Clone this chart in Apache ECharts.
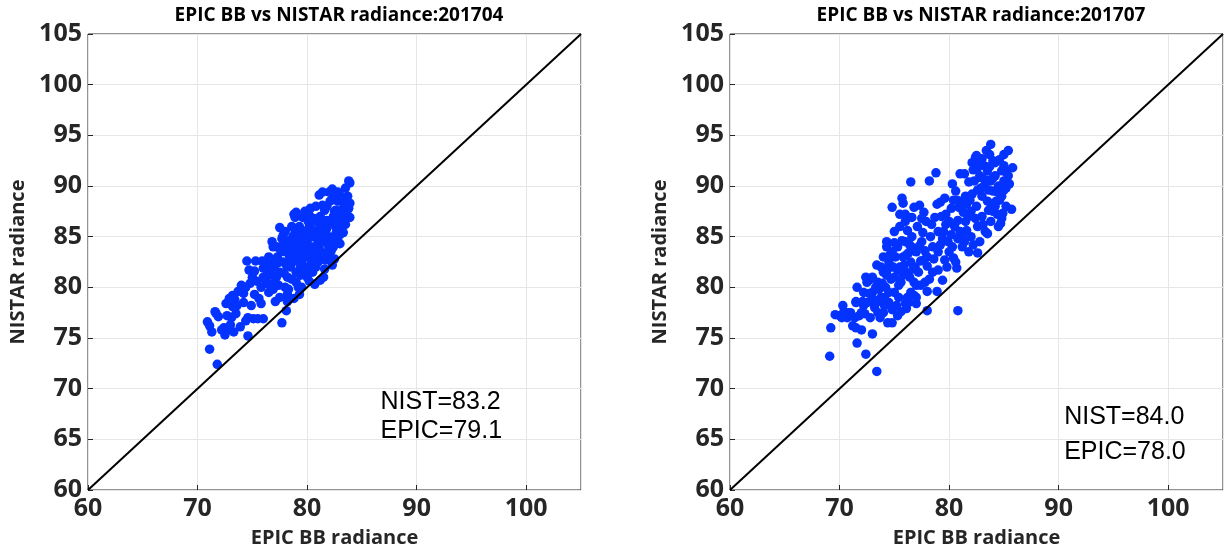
<!DOCTYPE html>
<html><head><meta charset="utf-8">
<script src="https://cdn.jsdelivr.net/npm/echarts@6/dist/echarts.min.js"></script>
<style>html,body{margin:0;padding:0;background:#fff}#c{width:1225px;height:550px}</style>
</head><body><div id="c"></div>
<script>
const titles = ['EPIC BB vs NISTAR radiance:201704', 'EPIC BB vs NISTAR radiance:201707'];
const xName = 'EPIC BB radiance';
const yName = 'NISTAR radiance';
const xTicks = [60, 70, 80, 90, 100];
const yTicks = [60, 65, 70, 75, 80, 85, 90, 95, 100, 105];
const diagonal = [[60, 60], [105, 105]];
const annotLeft = ['NIST=83.2', 'EPIC=79.1'];
const annotRight = ['NIST=84.0', 'EPIC=78.0'];
const annotLeftPos = [[86.7, 68.7], [86.7, 65.8]];
const annotRightPos = [[90.5, 67.2], [90.5, 63.7]];

const leftPoints = [
[70.9,76.6],[71.1,73.9],[71.8,72.4],[71.3,75.6],[71.1,76.2],[71.7,77.4],[71.9,77.1],[72.5,75.3],[72.8,75.8],[73.0,76.3],
[72.6,78.4],[72.9,78.9],[73.2,78.1],[73.5,77.4],[73.7,79.6],[74.0,80.2],[73.9,76.1],[74.6,75.2],[74.6,77.0],[74.4,76.7],
[75.1,76.9],[75.5,76.9],[76.0,76.9],[74.5,82.6],[75.3,82.6],[75.0,81.0],[74.7,81.7],[74.4,80.0],[75.2,79.3],[75.6,78.9],
[75.8,78.4],[76.0,81.9],[76.2,80.7],[76.5,80.3],[76.8,81.2],[76.7,82.7],[76.8,84.5],[76.9,84.0],[77.1,78.6],[77.7,76.5],
[77.5,85.9],[77.7,84.8],[77.8,85.1],[78.1,77.7],[78.2,78.6],[78.2,79.3],[78.8,87.2],[78.9,86.9],[78.8,78.9],[79.3,79.3],
[79.6,86.9],[80.2,87.1],[80.3,87.8],[80.7,80.3],[81.2,80.7],[81.1,89.1],[82.3,89.7],[83.0,89.1],[83.7,89.0],[83.8,90.5],
[83.9,90.3],[83.9,88.3],[83.9,86.9],[83.5,86.2],[83.0,84.3],[82.8,84.6],[82.3,82.2],[81.7,82.7],[82.6,87.6],[83.1,87.6],
[82.1,88.5],[81.4,88.1],[77.0,82.0],[77.3,83.0],[77.5,81.5],[77.8,82.5],[78.0,83.5],[78.2,81.0],[78.5,82.0],[78.5,84.0],
[78.7,85.0],[79.0,83.0],[79.0,81.5],[79.2,84.5],[79.3,86.0],[79.5,82.5],[79.6,85.5],[79.8,83.5],[80.0,84.5],[80.0,82.0],
[80.2,86.0],[80.4,83.0],[80.5,85.0],[80.7,84.0],[80.8,86.5],[81.0,82.5],[81.0,85.5],[81.2,87.0],[81.3,83.5],[81.5,84.5],
[81.6,86.0],[81.8,88.0],[82.0,83.0],[82.0,85.0],[82.2,86.5],[82.4,84.0],[82.5,87.5],[82.7,85.5],[82.8,88.5],[83.0,86.0],
[83.2,87.0],[83.4,88.0],[78.0,80.0],[78.3,79.8],[79.0,80.5],[79.5,80.0],[80.0,81.0],[80.5,81.5],[81.5,81.0],[76.5,83.0],
[77.0,80.5],[76.0,81.0],[76.5,79.5],[77.5,79.0],[77.2,84.0],[78.0,85.5],[79.8,87.5],[80.8,88.0],[77.4,80.2],[78.6,80.8],
[79.4,81.2],[79.9,83.0],[80.3,84.0],[80.9,83.2],[81.4,85.2],[81.9,84.2],[82.2,83.6],[82.9,86.6],[83.3,85.4],[79.1,85.8],
[80.6,86.8],[81.6,87.6],[82.4,89.0],[82.0,89.4],[80.1,86.5],[79.7,84.2],[78.9,82.6],[78.1,82.2],[77.6,83.6],[76.3,82.4],
[75.8,80.0],[75.4,80.6],[74.9,78.2],[74.2,78.5],[73.4,78.8],[72.4,76.0],[73.1,77.0],[71.6,77.6],[76.9,79.8],[78.4,83.2],
[79.9,85.0],[80.9,84.8],[81.8,85.8],[82.6,86.0],[83.6,87.4],[83.2,88.7],[80.4,82.4],[81.1,83.8],[79.3,83.8],[78.8,84.6],
[77.3,82.4],[77.9,81.4],[78.4,82.8],[78.9,83.8],[79.4,82.0],[79.8,81.6],[80.2,83.4],[80.6,83.8],[81.0,84.2],[81.4,82.8],
[81.8,83.4],[82.2,84.8],[82.6,85.2],[83.0,85.2],[83.4,86.4],[82.4,87.0],[81.8,86.6],[81.2,86.2],[80.6,85.6],[80.0,85.6],
[79.5,84.9],[78.9,85.4],[78.3,84.6],[77.8,84.2],[77.2,81.0],[76.4,81.6],[75.9,82.6],[75.2,81.6],[74.8,80.4],[74.2,79.4],
[73.6,78.2],[73.2,79.2],[72.7,77.2],[72.2,75.8],[73.3,75.6],[80.8,82.0],[81.6,83.2],[79.2,80.0],[80.2,80.6],[81.4,89.4],
[82.8,89.4],[83.5,89.8],[83.8,87.8],[82.9,87.4],[81.6,81.8],[82.5,82.8],[79.6,83.2],[80.4,86.8],[79.0,87.4],[78.6,86.0]
];

const rightPoints = [
[69.1,73.2],[69.2,76.0],[69.6,77.3],[70.0,77.2],[70.3,78.2],[70.2,77.0],[70.7,77.0],[71.2,76.2],[71.5,76.0],[72.0,75.8],
[71.6,74.5],[72.4,73.4],[73.4,71.7],[73.0,75.4],[71.6,80.0],[71.5,78.6],[72.2,78.2],[72.4,81.0],[72.7,80.7],[73.4,82.2],
[74.3,84.5],[74.8,87.9],[74.4,76.5],[74.8,76.5],[75.3,77.2],[75.7,88.8],[75.5,87.2],[76.0,87.2],[75.8,88.3],[76.5,90.4],
[76.8,87.9],[76.6,86.9],[77.3,88.1],[77.7,87.4],[78.2,90.5],[78.8,91.3],[77.9,86.5],[78.4,86.2],[78.7,86.9],[78.0,77.7],
[77.0,78.4],[76.1,77.9],[78.0,79.6],[78.9,79.6],[79.4,80.7],[79.0,81.7],[79.6,82.7],[80.4,82.9],[80.7,81.9],[80.8,77.7],
[79.2,88.4],[79.6,88.8],[79.7,87.2],[80.3,90.2],[80.6,89.5],[80.9,87.9],[81.0,91.2],[81.4,91.2],[81.8,90.4],[82.1,92.3],
[82.4,92.8],[82.8,92.3],[83.0,92.7],[83.7,93.1],[83.8,94.1],[84.2,92.3],[85.0,93.1],[85.4,93.5],[85.8,91.8],[85.4,91.0],
[85.2,89.8],[85.7,87.7],[84.9,87.3],[84.7,86.3],[83.5,85.3],[82.6,83.4],[81.8,83.5],[81.4,84.5],[80.8,84.8],[79.9,84.5],
[79.4,84.8],[79.0,85.5],[77.3,84.1],[76.3,83.4],[77.7,82.7],[78.0,82.1],[75.3,81.7],
[72.5,78.5],[73.0,79.5],[73.2,78.0],[73.5,80.5],[73.8,79.0],[74.0,81.5],[74.2,80.0],[74.5,82.5],[74.5,78.5],[74.8,83.5],
[75.0,81.0],[75.0,79.5],[75.3,84.0],[75.5,82.0],[75.6,80.5],[75.8,83.0],[76.0,84.5],[76.0,81.5],[76.2,79.0],[76.5,82.5],
[76.6,85.0],[76.8,80.5],[77.0,83.5],[77.2,81.5],[77.5,84.5],[77.8,80.5],[78.0,83.0],[72.0,77.5],[72.8,77.0],[73.5,77.5],
[74.0,77.5],[73.0,81.0],[74.0,83.0],[74.3,84.0],[75.0,85.5],[75.5,86.0],[76.0,86.5],[76.5,79.5],[77.0,79.0],[74.5,79.5],
[73.8,82.0],[75.2,78.2],[76.3,78.5],[71.0,77.5],[71.5,78.5],[71.8,77.2],[72.2,79.5],[72.5,80.5],[70.8,77.5],[78.5,81.5],
[78.5,84.0],[79.0,83.5],[79.5,85.5],[80.0,86.5],[80.0,83.5],[80.5,86.0],[81.0,85.5],[81.0,88.5],[81.5,86.5],[81.5,89.0],
[82.0,87.5],[82.0,85.0],[82.3,90.5],[82.5,88.0],[82.6,86.0],[82.8,91.0],[83.0,89.0],[83.0,87.0],[83.2,90.0],[83.3,85.5],
[83.5,91.5],[83.5,88.5],[83.8,86.5],[83.8,90.5],[84.0,89.5],[84.0,87.5],[84.2,91.0],[84.3,88.5],[84.5,90.0],[84.5,86.0],
[84.8,91.5],[84.8,89.0],[85.0,90.5],[85.2,88.0],[85.0,92.0],[83.2,92.0],[82.5,93.0],[84.0,92.5],[81.8,87.0],[82.8,84.5],
[81.2,84.0],[80.3,84.0],[79.8,82.0],[80.6,82.5],[73.6,79.8],[74.1,78.2],[74.7,80.8],[75.4,79.0],[75.9,82.2],[76.4,81.0],
[76.9,82.0],[77.4,80.2],[73.3,80.0],[72.9,78.6],[74.9,82.0],[75.7,84.6],[76.2,85.6],[77.1,86.0],[77.6,85.4],[78.3,85.0],
[79.7,86.2],[80.2,87.8],[80.7,88.6],[81.3,87.4],[82.1,89.2],[82.9,89.8],[83.6,89.6],[84.4,89.4],[83.9,88.2],[83.1,86.2],
[82.2,84.2],[81.6,85.6],[84.6,92.6],[85.5,90.2],[83.4,93.5],[72.3,77.4],[73.7,77.0],[74.3,81.2],[75.1,83.0],[76.7,83.9],
[73.1,78.8],[73.9,80.4],[74.4,81.8],[74.6,83.2],[75.0,84.4],[75.4,80.2],[75.8,81.2],[76.1,83.2],[76.4,84.2],[76.7,81.8],
[77.0,80.2],[77.4,82.6],[77.8,83.6],[78.2,80.8],[74.1,79.0],[73.5,78.6],[72.7,79.4],[72.1,78.6],[71.4,77.0],[70.4,77.6],
[74.8,77.8],[75.6,77.6],[76.0,78.4],[76.8,79.2],[78.6,82.8],[79.2,84.2],[80.2,85.2],[80.8,86.6],[81.2,85.0],[80.4,88.6],
[81.6,88.2],[82.4,86.8],[82.6,89.6],[82.2,91.6],[83.0,90.8],[83.4,90.6],[83.6,87.6],[84.2,88.0],[84.6,88.6],[84.0,90.8],
[84.4,87.2],[83.7,91.9],[82.6,91.8],[81.9,88.6],[85.0,89.6],[84.8,86.8],[85.2,91.4],[79.3,87.0],[78.9,88.2],[77.5,86.8]
];

function makeGrid(left, top) {
  return { left: left, top: top, width: 493, height: 456, show: true, borderColor: '#262626', borderWidth: 1,
    backgroundColor: '#fff', containLabel: false, outerBoundsMode: 'none' };
}
const labelFont = { fontFamily: 'Open Sans', fontWeight: 'bold', fontSize: 25, color: '#262626' };
const nameFont = { fontFamily: 'Open Sans', fontWeight: 'bold', fontSize: 20, color: '#262626' };
function xAxis(gi) {
  return {
    type: 'value', gridIndex: gi, min: 60, max: 105, interval: 10,
    name: xName, nameLocation: 'middle', nameGap: 38, nameTextStyle: nameFont,
    axisLine: { show: false },
    axisTick: { show: true, inside: true, length: 5, lineStyle: { color: '#262626' } },
    axisLabel: Object.assign({ margin: 6, showMaxLabel: false, formatter: v => xTicks.includes(v) ? String(v) : '' }, labelFont),
    splitLine: { show: true, lineStyle: { color: '#e6e6e6', width: 1 } }
  };
}
function yAxis(gi) {
  return {
    type: 'value', gridIndex: gi, min: 60, max: 105, interval: 5,
    name: yName, nameLocation: 'middle', nameGap: 60, nameTextStyle: nameFont,
    axisLine: { show: false },
    axisTick: { show: true, inside: true, length: 5, lineStyle: { color: '#262626' } },
    axisLabel: Object.assign({ margin: 6, formatter: v => yTicks.includes(v) ? String(v) : '' }, labelFont),
    splitLine: { show: true, lineStyle: { color: '#e6e6e6', width: 1 } }
  };
}
function annotSeries(gi, texts, pos) {
  return {
    type: 'scatter', xAxisIndex: gi, yAxisIndex: gi, symbolSize: 0, silent: true, z: 5,
    data: pos.map((p, i) => ({ value: p, name: texts[i] })),
    label: { show: true, position: 'right', distance: 0, formatter: p => p.name,
      fontFamily: 'Liberation Sans', fontSize: 25, color: '#000', textBorderWidth: 0, opacity: 1 }
  };
}
function scatterSeries(gi, pts) {
  return { type: 'scatter', xAxisIndex: gi, yAxisIndex: gi, data: pts, symbolSize: 9.5,
    itemStyle: { color: '#0433ff', opacity: 1 }, silent: true, z: 3 };
}
function diagSeries(gi) {
  return { type: 'line', xAxisIndex: gi, yAxisIndex: gi, data: diagonal, symbol: 'none',
    lineStyle: { color: '#000', width: 2 }, silent: true, z: 4 };
}

const chart = echarts.init(document.getElementById('c'), null, { renderer: 'canvas' });
chart.setOption({
  animation: false,
  backgroundColor: '#fff',
  title: [
    { text: titles[0], left: 334, top: 1, textAlign: 'center', textStyle: { fontFamily: 'Open Sans', fontWeight: 'bold', fontSize: 19, color: '#000' } },
    { text: titles[1], left: 976, top: 1, textAlign: 'center', textStyle: { fontFamily: 'Open Sans', fontWeight: 'bold', fontSize: 19, color: '#000' } }
  ],
  grid: [makeGrid(88, 34), makeGrid(730, 34)],
  xAxis: [xAxis(0), xAxis(1)],
  yAxis: [yAxis(0), yAxis(1)],
  series: [
    scatterSeries(0, leftPoints), diagSeries(0), annotSeries(0, annotLeft, annotLeftPos),
    scatterSeries(1, rightPoints), diagSeries(1), annotSeries(1, annotRight, annotRightPos)
  ]
});
</script></body></html>
